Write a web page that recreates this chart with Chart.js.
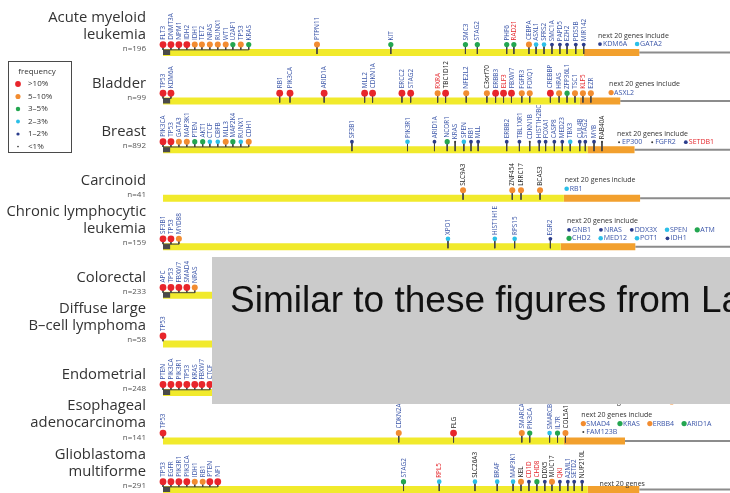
<!DOCTYPE html>
<html>
<head>
<meta charset="utf-8">
<script src="https://cdn.jsdelivr.net/npm/chart.js@4.4.1/dist/chart.umd.min.js"></script>
<style>
  html, body { margin: 0; padding: 0; background: #ffffff; }
  #wrap { width: 730px; height: 493px; }
</style>
</head>
<body>
<div id="wrap"><canvas id="genes" width="730" height="493"></canvas></div>
<script>
// ---- cohorts --------------------------------------------------------------
const cancerTypes = [
  ['Acute myeloid', 'leukemia'], ['Bladder'], ['Breast'], ['Carcinoid'],
  ['Chronic lymphocytic', 'leukemia'], ['Colorectal'], ['Diffuse large', 'B\u2013cell lymphoma'],
  ['Endometrial'], ['Esophageal', 'adenocarcinoma'], ['Glioblastoma', 'multiforme']
];
const sampleSizes = [196, 99, 892, 41, 159, 233, 58, 248, 141, 291];

// frequency classes: r >10%, o 5-10%, g 3-5%, c 2-3%, b 1-2%, s <1%
const freqCodes = ['r', 'o', 'g', 'c', 'b', 's'];
const freqLabels = ['>10%', '5\u201310%', '3\u20135%', '2\u20133%', '1\u20132%', '<1%'];

// ---- significant genes per cohort (position along the ranked gene list) ----
const amlGenes = ['FLT3','DNMT3A','NPM1','IDH2','IDH1','TET2','NRAS','RUNX1','WT1','U2AF1','TP53','KRAS','PTPN11','KIT','SMC3','STAG2','PHF6','RAD21','CEBPA','ASXL1','SFRS2','SMC1A','PAPD5','EZH2','PDS5B','MIR142'];
const amlPos   = [0,1,2,3,4,4.9,5.9,6.9,7.9,8.8,9.8,10.8,19.4,28.7,38.1,39.6,43.3,44.2,46.1,47.0,48.0,49.0,50.0,50.9,52.0,53.0];
const amlFreq  = ['r','r','r','r','o','o','o','o','o','g','o','g','o','g','g','g','g','g','o','c','c','b','b','b','b','b'];

const bladderGenes = ['TP53','KDM6A','RB1','PIK3CA','ARID1A','MLL2','CDKN1A','ERCC2','STAG2','RXRA','TBC1D12','NFE2L2','C3orf70','ERBB3','ELF3','FBXW7','FGFR3','FOXQ1','CREBBP','HRAS','ZFP36L1','TSC1','KLF5','EZR'];
const bladderPos   = [0,1,14.7,16.0,20.3,25.4,26.4,30.1,31.2,34.6,35.6,38.2,40.8,41.9,42.9,43.9,45.2,46.2,48.8,49.9,50.9,51.9,52.9,53.9];
const bladderFreq  = ['r','r','r','r','r','r','r','r','r','o','r','o','o','r','r','r','o','o','r','o','g','o','o','o'];

const breastGenes = ['PIK3CA','TP53','GATA3','MAP3K1','PTEN','AKT1','CTCF','CBFB','MLL3','MAP2K4','RUNX1','CDH1','SF3B1','PIK3R1','ARID1A','NCOR1','KRAS','SPEN','RB1','MLL','ERBB2','TBL1XR1','CDKN1B','HIST1H2BC','FOXA1','CASP8','MED23','TBX3','CUL4B','STAG2','MYB','RAB40A'];
const breastPos   = [0,1,2,3,4,5,5.9,6.9,7.9,8.8,9.8,10.8,23.8,30.8,34.2,35.8,36.8,37.9,38.8,39.7,43.3,44.9,46.2,47.4,48.2,49.3,50.3,51.3,52.5,53.2,54.3,55.3];
const breastFreq  = ['r','r','o','o','g','g','c','c','o','g','c','o','b','c','b','g','s','c','b','b','b','b','s','b','b','b','b','c','b','b','b','s'];

const carcinoidGenes = ['SLC9A3','ZNF454','LRRC17','BCAS3'];
const carcinoidPos   = [37.8,44.0,45.1,47.5];
const carcinoidFreq  = ['o','o','o','o'];

const cllGenes = ['SF3B1','TP53','MYD88','XPO1','HIST1H1E','RPS15','EGR2'];
const cllPos   = [0,1,2,35.9,41.8,44.3,48.8];
const cllFreq  = ['r','r','o','c','c','c','b'];

const colorectalGenes = ['APC','TP53','FBXW7','SMAD4','NRAS'];
const colorectalPos   = [0,1,2,3,4];
const colorectalFreq  = ['r','r','r','r','o'];

const dlbclGenes = ['TP53'];
const dlbclPos   = [0];
const dlbclFreq  = ['r'];

const endometrialGenes = ['PTEN','PIK3CA','PIK3R1','TP53','KRAS','FBXW7','CTCF'];
const endometrialPos   = [0,1,2,3,4,4.9,5.9];
const endometrialFreq  = ['r','r','r','r','r','r','r'];

const esophagealGenes = ['TP53','CDKN2A','FLG','SMARCA4','PIK3CA','SMARCB1','IL7R','COL5A1'];
const esophagealPos   = [0,29.7,36.6,45.2,46.2,48.7,49.7,50.7];
const esophagealFreq  = ['r','o','r','o','g','c','g','o'];

const gbmGenes = ['TP53','EGFR','PIK3R1','PIK3CA','IDH1','RB1','PTEN','NF1','STAG2','RPL5','SLC26A3','BRAF','MAP3K1','KEL','CD1D','CHD8','DDX5','MUC17','QKI','A2ML1','SETD2','NUP210L'];
const gbmPos   = [0,1,2,3,4,5,5.9,6.9,30.3,34.8,39.3,42.1,44.1,45.1,46.1,47.1,48.1,49.0,50.0,51.0,51.8,52.8];
const gbmFreq  = ['r','r','r','r','o','o','r','r','g','c','c','c','c','o','b','g','b','o','b','b','b','b'];

// end of the significant (yellow) and near-significant (orange) stretches
const significantTo = [53.0, 52.5, 53.5, 50.5, 50.1, 52.0, 52.0, 52.0, 50.5, 53.5];
const nearTo        = [60.0, 57.6, 59.4, 60.1, 59.5, 59.0, 59.0, 59.0, 58.2, 60.0];
// number of leading genes whose stems join at the head of the list
const leadCluster   = [12, 2, 12, 0, 3, 5, 1, 7, 1, 8];

// next 20 genes, as lines of "GENE:class"
const next20Aml         = [['KDM6A:b', 'GATA2:c']];
const next20Bladder     = [['ASXL2:o']];
const next20Breast      = [['EP300:s', 'FGFR2:s', 'SETDB1:b']];
const next20Carcinoid   = [['RB1:c']];
const next20Cll         = [['GNB1:b', 'NRAS:b', 'DDX3X:b', 'SPEN:c', 'ATM:g'], ['CHD2:g', 'MED12:c', 'POT1:c', 'IDH1:b']];
const next20Endometrial = [['CCND1:o']];
const next20Esophageal  = [['SMAD4:o', 'KRAS:g', 'ERBB4:o', 'ARID1A:g'], ['FAM123B:s']];
const next20Gbm         = [];

const redLabels   = ['RAD21','RXRA','ELF3','KLF5','RPL5','CD1D','CHD8','QKI','SETDB1'];
const blackLabels = ['TBC1D12','C3orf70','RAB40A','SLC9A3','ZNF454','LRRC17','BCAS3','FLG','COL5A1','SLC26A3','KEL','DDX5','MUC17','NUP210L'];

// ---- layout / style ---------------------------------------------------------
const rows = [
  [amlGenes, amlPos, amlFreq], [bladderGenes, bladderPos, bladderFreq],
  [breastGenes, breastPos, breastFreq], [carcinoidGenes, carcinoidPos, carcinoidFreq],
  [cllGenes, cllPos, cllFreq], [colorectalGenes, colorectalPos, colorectalFreq],
  [dlbclGenes, dlbclPos, dlbclFreq], [endometrialGenes, endometrialPos, endometrialFreq],
  [esophagealGenes, esophagealPos, esophagealFreq], [gbmGenes, gbmPos, gbmFreq]
];
const next20 = [next20Aml, next20Bladder, next20Breast, next20Carcinoid, next20Cll,
                null, null, next20Endometrial, next20Esophageal, next20Gbm];
const next20At     = [54.8, 56.2, 57.2, 50.6, 50.9, null, null, 53.9, 52.7, 55.0];
const next20HeadDy = [-17, -17, -16, -18, -25.5, null, null, 9.5, -26, -6];
const next20Inline = [7];
const next20Title  = i => (i === 9 ? 'next 20 genes' : 'next 20 genes include');

const DOT_LIFT = 0.164, BAR_TOP = 0.055, STEM_FOOT = 0.03, X_MAX = 71;

const dotColor = { r: '#e8252b', o: '#f28c30', g: '#23a650', c: '#2bbfe8', b: '#2b3d8c', s: '#3a3a3a' };
const dotSize  = { r: 3.4, o: 3.0, g: 2.6, c: 2.3, b: 1.9, s: 1.0 };
const LABEL_BLUE = '#3a55a8', LABEL_RED = '#e4262b', LABEL_BLACK = '#222222';
const labelColor = g => redLabels.includes(g) ? LABEL_RED : (blackLabels.includes(g) ? LABEL_BLACK : LABEL_BLUE);

// ---- datasets ---------------------------------------------------------------
const GAP = { x: null, y: null };
const yellow = [], orange = [], grey = [], stems = [], hubs = [];
rows.forEach(([genes, pos], r) => {
  yellow.push({ x: 0, y: r }, { x: significantTo[r], y: r }, GAP);
  orange.push({ x: significantTo[r], y: r }, { x: nearTo[r], y: r }, GAP);
  grey.push({ x: nearTo[r], y: r }, { x: X_MAX + 4, y: r }, GAP);
  const lead = leadCluster[r];
  genes.forEach((g, i) => {
    stems.push({ x: pos[i], y: r - DOT_LIFT }, { x: pos[i], y: i < lead ? r - BAR_TOP : r + STEM_FOOT }, GAP);
  });
  if (lead > 1) {
    stems.push({ x: 0, y: r - BAR_TOP }, { x: pos[lead - 1], y: r - BAR_TOP }, GAP);
    hubs.push({ x: 0, y: r }, { x: 0.9, y: r }, GAP);
  }
});

const segment = (label, data, color, width, order) => ({
  type: 'line', label, data, borderColor: color, borderWidth: width, pointRadius: 0,
  pointHitRadius: 0, tension: 0, spanGaps: false, fill: false, clip: false,
  borderCapStyle: 'butt', order
});

const datasets = freqCodes.map(code => {
  const data = [];
  rows.forEach(([genes, pos, freq], r) => {
    genes.forEach((g, i) => { if (freq[i] === code) data.push({ x: pos[i], y: r - DOT_LIFT }); });
  });
  return {
    type: 'scatter', label: code, data, backgroundColor: dotColor[code], borderWidth: 0,
    pointRadius: dotSize[code], pointHoverRadius: dotSize[code], clip: false, order: 0
  };
});
datasets.push(segment('stems', stems, '#444444', 1, 1));
datasets.push(segment('hubs', hubs, '#4a4a4a', 5, 1));
datasets.push(segment('significant', yellow, '#f1ea2c', 7, 3));
datasets.push(segment('near', orange, '#f2a02e', 7, 3));
datasets.push(segment('rest', grey, '#8c8c8c', 2, 4));

// ---- text: gene names, cohort titles, legend, next-20 lists, caption ------
const annotate = {
  id: 'annotate',
  afterDraw(chart) {
    const ctx = chart.ctx;
    const sx = chart.scales.x, sy = chart.scales.y;
    ctx.save();

    // rotated gene names above each dot
    ctx.font = '6.4px "Open Sans"';
    ctx.textAlign = 'left';
    ctx.textBaseline = 'middle';
    rows.forEach(([genes, pos, freq], r) => {
      genes.forEach((g, i) => {
        const x = sx.getPixelForValue(pos[i]);
        const y = sy.getPixelForValue(r - DOT_LIFT) - dotSize[freq[i]] - 1.5;
        ctx.save();
        ctx.translate(x, y);
        ctx.rotate(-Math.PI / 2);
        ctx.fillStyle = labelColor(g);
        ctx.fillText(g, 0, 0.3);
        ctx.restore();
      });
    });

    // cohort titles and sizes
    ctx.textAlign = 'right';
    ctx.textBaseline = 'alphabetic';
    cancerTypes.forEach((lines, r) => {
      const by = sy.getPixelForValue(r);
      ctx.fillStyle = '#333333';
      ctx.font = '14.8px "Open Sans"';
      if (lines.length === 2) {
        ctx.fillText(lines[0], 146, by - 31);
        ctx.fillText(lines[1], 146, by - 14);
      } else {
        ctx.fillText(lines[0], 146, by - 13.5);
      }
      ctx.fillStyle = '#555555';
      ctx.font = '8px "Open Sans"';
      ctx.fillText('n=' + sampleSizes[r], 146, by - 1.5);
    });

    // next 20 genes
    const drawEntry = (item, x, y) => {
      const [g, code] = item.split(':');
      ctx.fillStyle = dotColor[code];
      ctx.beginPath();
      ctx.arc(x + 2, y, Math.min(dotSize[code], 2.6), 0, Math.PI * 2);
      ctx.fill();
      ctx.fillStyle = redLabels.includes(g) ? LABEL_RED : LABEL_BLUE;
      ctx.fillText(g, x + 5, y);
      return x + 5 + ctx.measureText(g).width + 8;
    };
    ctx.font = '7px "Open Sans"';
    ctx.textAlign = 'left';
    ctx.textBaseline = 'middle';
    next20.forEach((list, r) => {
      if (!list) return;
      const x0 = sx.getPixelForValue(next20At[r]);
      const hy = sy.getPixelForValue(r) + next20HeadDy[r];
      const title = next20Title(r);
      ctx.fillStyle = '#333333';
      ctx.fillText(title, x0, hy);
      if (next20Inline.includes(r)) {
        let x = x0 + ctx.measureText(title).width + 8;
        list[0].forEach(item => { x = drawEntry(item, x, hy); });
        return;
      }
      list.forEach((line, k) => {
        let x = x0;
        const y = hy + 8.5 * (k + 1);
        line.forEach(item => { x = drawEntry(item, x, y); });
      });
    });

    // frequency key
    ctx.strokeStyle = '#4a4a4a';
    ctx.lineWidth = 1;
    ctx.strokeRect(8.5, 61.5, 63, 91);
    ctx.font = '8px "Open Sans"';
    ctx.fillStyle = '#333333';
    ctx.textAlign = 'center';
    ctx.fillText('frequency', 37, 72);
    ctx.textAlign = 'left';
    freqCodes.forEach((code, k) => {
      const y = 84 + 12.5 * k;
      ctx.fillStyle = dotColor[code];
      ctx.beginPath();
      ctx.arc(18, y, dotSize[code] * 0.85, 0, Math.PI * 2);
      ctx.fill();
      ctx.fillStyle = '#333333';
      ctx.fillText(freqLabels[k], 28, y);
    });

    // caption panel over the lower rows
    ctx.fillStyle = '#cbcbcb';
    ctx.fillRect(212, 257, 530, 147);
    ctx.fillStyle = '#111111';
    ctx.font = '37px "Liberation Sans"';
    ctx.textBaseline = 'alphabetic';
    ctx.fillText('Similar to these figures from Lawrence et al.', 230, 312);

    ctx.restore();
  }
};

new Chart(document.getElementById('genes'), {
  type: 'scatter',
  data: { datasets },
  options: {
    responsive: false,
    animation: false,
    devicePixelRatio: 1,
    events: [],
    layout: { padding: { left: 163, right: 0, top: 4, bottom: 1 } },
    scales: {
      x: { type: 'linear', min: 0, max: X_MAX, display: false },
      y: { type: 'linear', min: -1, max: 9, reverse: true, display: false }
    },
    plugins: { legend: { display: false }, tooltip: { enabled: false } }
  },
  plugins: [annotate]
});
</script>
</body>
</html>
